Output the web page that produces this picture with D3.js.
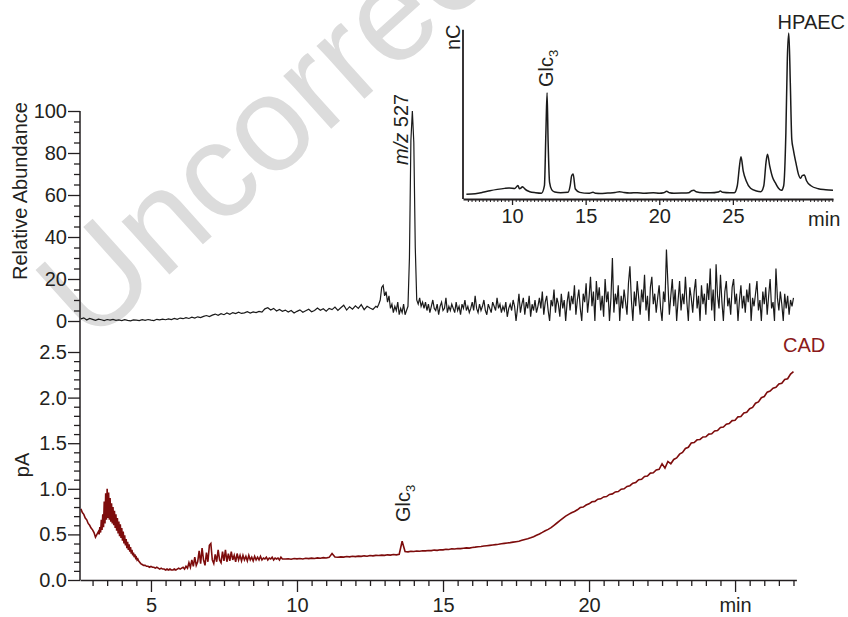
<!DOCTYPE html>
<html><head><meta charset="utf-8">
<script src="https://cdn.jsdelivr.net/npm/d3@7"></script>
<style>
body{margin:0;background:#fff}
svg{display:block}
text{font-family:"Liberation Sans",Arial,Helvetica,sans-serif;fill:#231f20}
</style>
</head><body>
<svg id="chart" width="848" height="617"></svg>
<script>
// ---------------- DATA ----------------
const timeTicks = [5, 10, 15, 20, 25];
const timeTickLabels = ["5", "10", "15", "20", "min"];
const msTicks = [0, 20, 40, 60, 80, 100];
const cadTicks = [0, 0.5, 1.0, 1.5, 2.0, 2.5];
const insetTicks = [10, 15, 20, 25];

// MS trace (m/z 527, relative abundance %), sampled segments
const msQuietStart = 2.6, msQuietStep = 0.1;
const msQuietValues = [
 1.0,1.5,0.5,1.2,0.8,0.3,0.9,0.6,0.2,0.7,
 0.4,0.8,0.3,0.5,0.2,0.6,0.3,0.1,0.5,0.4,
 0.2,0.6,0.3,0.7,0.4,0.2,0.8,0.5,0.9,0.6,
 1.0,0.7,1.2,0.8,1.4,1.1,1.6,1.2,1.8,1.4,
 2.0,1.6,2.2,2.6,2.1,2.8,3.3,2.7,3.5,3.0,
 3.8,3.2,4.0,3.5,4.2,3.6,3.9,4.4,3.8,4.3,
 4.0,4.6,4.2,5.8,6.3,5.2,6.0,4.8,5.5,4.6,
 5.2,4.3,5.0,3.8,4.6,5.3,4.2,4.9,5.6,4.4,
 5.0,6.2,5.1,5.8,4.7,6.0,5.4,6.6,5.0,6.3,
 7.5,5.2,6.8,5.6,7.2,6.0,7.8,5.4,7.0,6.2,
 5.5,7.0];
const msPeakStart = 12.75, msPeakStep = 0.05;
const msPeakValues = [
 6.5,8,10,16,17,12,14,9,12,6,
 8,4,7,5,9,3,6,4,8,3,
 5,7,30,86,100,85,35,10,8,11,
 7,9];
const msNoisyStart = 14.35, msNoisyStep = 0.05;
const msNoisyValues = [
 6,9,5,8,4,7,10,6,5,8,3,7,9,5,6,11,4,7,5,8,
 6,4,9,5,7,3,8,6,10,5,7,4,6,9,5,12,6,4,8,5,
 7,10,5,3,8,6,4,9,7,5,11,6,8,4,7,5,9,2,6,8,
 5,10,7,0,6,13,4,8,11,3,9,6,12,2,8,5,10,4,7,11,
 6,14,3,9,12,5,0,10,7,15,4,11,8,2,13,6,10,0,9,14,
 5,12,8,17,3,10,15,6,0,13,9,18,4,11,21,7,14,0,19,10,
 16,5,12,2,20,9,14,0,11,30,4,13,8,17,0,12,6,15,9,3,
 18,26,10,0,14,7,19,11,3,15,9,22,5,12,0,16,21,8,13,4,
 11,17,6,0,14,9,34,18,3,12,20,7,15,0,10,19,5,13,8,21,
 9,0,16,11,4,14,20,6,12,0,17,8,13,3,18,10,25,5,15,0,
 27,12,6,22,9,0,14,19,7,11,3,16,20,8,13,0,10,17,6,12,
 4,15,9,18,0,11,7,13,19,5,10,0,14,8,16,3,12,20,6,9,
 0,25,11,5,14,8,0,13,6,12,3,10,7,11];

// CAD trace (pA)
const cadStartStart = 2.6, cadStartStep = 0.05;
const cadStartValues = [0.78,0.74,0.72,0.68,0.66,0.62,0.60,0.57,0.55,0.52,0.47,0.50,0.53];
const cadBandStart = 3.225, cadBandStep = 0.025;
const cadBandValues = [
 0.50,0.58,0.52,0.66,0.55,0.72,0.58,0.86,0.62,0.95,0.66,1.00,
 0.68,0.96,0.66,0.90,0.64,0.84,0.62,0.80,0.60,0.76,0.57,0.72,
 0.54,0.68,0.51,0.64,0.48,0.61,0.46,0.57,0.43,0.53,0.40,0.49,
 0.38,0.45,0.35,0.42,0.33,0.39,0.31,0.36,0.29,0.33,0.27,0.30,
 0.25,0.28,0.24,0.25,0.22,0.23,0.21,0.20];
const cadEarlyStart = 4.65, cadEarlyStep = 0.05;
const cadEarlyValues = [
 0.18,0.17,0.16,0.16,0.15,0.15,0.14,0.15,0.14,
 0.14,0.13,0.14,0.13,0.12,0.13,0.12,0.12,0.11,0.12,
 0.11,0.12,0.11,0.11,0.12,0.11,0.12,0.13,0.12,0.13,
 0.14,0.12,0.15,0.13,0.19,0.14,0.22,0.15,0.25,0.16,
 0.20,0.32,0.18,0.35,0.22,0.16,0.30,0.20,0.38,0.40,
 0.22,0.18,0.28,0.20,0.33,0.22,0.19,0.31,0.21,0.33,
 0.20,0.29,0.21,0.31,0.22,0.27,0.20,0.29,0.22,0.27,
 0.21,0.27,0.22,0.26,0.21,0.27,0.22,0.25,0.21,0.26,
 0.22,0.25,0.22,0.26,0.22,0.24,0.23,0.25,0.22,0.24,
 0.23,0.25,0.22,0.24,0.23,0.24,0.22,0.25,0.23];
const cadLateStart = 9.6, cadLateStep = 0.1;
const cadLateValues = [
 0.230,0.233,0.228,0.235,0.232,0.236,0.231,0.238,0.234,0.240,
 0.236,0.242,0.239,0.245,0.241,0.248,0.290,0.252,0.249,0.254,
 0.251,0.257,0.254,0.260,0.256,0.262,0.259,0.265,0.261,0.268,
 0.265,0.270,0.268,0.273,0.270,0.276,0.273,0.279,0.276,0.282,
 0.425,0.312,0.309,0.315,0.313,0.318,0.316,0.321,0.319,0.324,
 0.322,0.328,0.325,0.332,0.330,0.337,0.335,0.342,0.340,0.346,
 0.344,0.349,0.352,0.350,0.357,0.360,0.364,0.367,0.372,0.376,
 0.380,0.384,0.388,0.392,0.397,0.402,0.406,0.410,0.415,0.420,
 0.425,0.435,0.445,0.452,0.462,0.475,0.490,0.505,0.522,0.540,
 0.555,0.575,0.600,0.625,0.650,0.675,0.700,0.720,0.738,0.752,
 0.770,0.795,0.800,0.822,0.835,0.858,0.862,0.886,0.890,0.911,
 0.915,0.938,0.944,0.966,0.970,0.996,1.000,1.026,1.034,1.062,
 1.070,1.099,1.104,1.135,1.140,1.172,1.175,1.207,1.214,1.275,
 1.226,1.300,1.274,1.322,1.338,1.380,1.398,1.442,1.455,1.502,
 1.508,1.537,1.541,1.568,1.570,1.600,1.603,1.634,1.638,1.673,
 1.678,1.708,1.715,1.748,1.752,1.789,1.792,1.831,1.838,1.878,
 1.893,1.938,1.952,1.999,2.012,2.060,2.072,2.104,2.112,2.150,
 2.157,2.198,2.207,2.258,2.285];

// Inset HPAEC trace: [time (min), signal (relative nC)]
const hpaecPoints = [
 [6.9,2.8],[7.5,3.2],[8.0,4.0],[8.5,5.0],[9.0,5.8],[9.5,6.4],[9.8,6.6],[10.2,6.4],
 [10.4,8.2],[10.5,6.2],[10.6,6.5],[10.7,7.4],[10.8,6.8],[10.9,5.8],[11.2,4.4],[11.6,3.8],
 [12.0,3.5],[12.2,8],[12.3,40],[12.38,64],[12.45,35],[12.55,10],[12.7,5.5],[12.9,4.2],
 [13.3,3.8],[13.8,4],[13.95,8],[14.05,14],[14.15,15],[14.3,6],[14.6,4],[15.2,3.4],
 [15.5,4.0],[15.7,3.4],[16.0,3.3],[16.5,3.6],[17.0,3.9],[17.3,4.4],[17.6,3.9],[18.0,3.6],
 [18.5,3.8],[19.0,3.5],[19.6,3.7],[20.0,3.5],[20.3,3.8],[20.5,4.6],[20.7,3.8],[21.0,3.5],
 [21.5,3.6],[22.0,3.8],[22.2,5.0],[22.35,5.3],[22.5,4.4],[23.0,3.8],[23.5,3.7],[24.0,4.2],
 [24.15,4.8],[24.3,4.0],[24.8,3.7],[25.1,3.8],[25.3,8],[25.45,20],[25.55,25.5],[25.7,17],
 [25.9,11],[26.2,6.5],[26.6,4.8],[26.9,4.4],[27.1,8],[27.25,22],[27.35,27],[27.5,20],
 [27.7,13],[27.9,9.5],[28.1,6.5],[28.3,5.2],[28.45,8],[28.6,40],[28.7,85],[28.8,100],
 [28.9,70],[29.0,36],[29.1,30],[29.3,21],[29.45,15],[29.6,12.5],[29.7,14],[29.85,14.5],
 [30.0,11],[30.3,8],[30.8,6.2],[31.3,5.6],[31.8,5.2]];

// ---------------- BUILD ----------------
function seg(start, step, values) {
  return values.map((v, i) => [start + i * step, v]);
}
const msData = seg(msQuietStart, msQuietStep, msQuietValues)
  .concat(seg(msPeakStart, msPeakStep, msPeakValues))
  .concat(seg(msNoisyStart, msNoisyStep, msNoisyValues));
const cadData = seg(cadStartStart, cadStartStep, cadStartValues)
  .concat(seg(cadBandStart, cadBandStep, cadBandValues))
  .concat(seg(cadEarlyStart, cadEarlyStep, cadEarlyValues))
  .concat(seg(cadLateStart, cadLateStep, cadLateValues));

const svg = d3.select("#chart");
const FS = 20;
const CADCOL = "#7d0c0c";

const x = d3.scaleLinear().domain([2.57, 27.1]).range([80, 796.4]);
const yMS = d3.scaleLinear().domain([0, 100]).range([321, 111]);
const yCAD = d3.scaleLinear().domain([0, 2.5]).range([580, 352]);
const xIn = d3.scaleLinear().domain([6.67, 31.8]).range([463, 833]);
const yIn = d3.scaleLinear().domain([0, 100]).range([199, 33]);

// watermark
svg.append("text")
  .attr("transform", "translate(90,346) rotate(-42)")
  .attr("font-size", 135)
  .style("fill", "#dcdcdc")
  .text("Uncorrected");

// traces
svg.append("path").datum(msData)
  .attr("d", d3.line().x(d => x(d[0])).y(d => yMS(d[1])))
  .attr("fill", "none").attr("stroke", "#1a1a1a").attr("stroke-width", 1.2);
svg.append("path").datum(cadData)
  .attr("d", d3.line().x(d => x(d[0])).y(d => yCAD(d[1])))
  .attr("fill", "none").attr("stroke", CADCOL).attr("stroke-width", 1.6);
svg.append("path").datum(hpaecPoints)
  .attr("d", d3.line().curve(d3.curveMonotoneX).x(d => xIn(d[0])).y(d => yIn(d[1])))
  .attr("fill", "none").attr("stroke", "#1a1a1a").attr("stroke-width", 1.5);

function styleAxis(g) {
  g.selectAll("line").attr("stroke", "#231f20").attr("stroke-width", 1.3);
  g.selectAll("path").attr("stroke", "#231f20").attr("stroke-width", 1.5);
  g.selectAll("text").attr("font-size", FS).style("font-family", '"Liberation Sans",Arial,sans-serif').attr("fill", "#231f20");
}

// main left spine
svg.append("line")
  .attr("x1", x.range()[0]).attr("x2", x.range()[0])
  .attr("y1", yMS(100)).attr("y2", yCAD(0))
  .attr("stroke", "#231f20").attr("stroke-width", 1.5);

// MS y axis
const gMS = svg.append("g").attr("transform", `translate(${x.range()[0]},0)`)
  .call(d3.axisLeft(yMS).tickValues(msTicks).tickSize(12).tickSizeOuter(0).tickPadding(1));
gMS.select(".domain").remove();
styleAxis(gMS);
const gMSm = svg.append("g").attr("transform", `translate(${x.range()[0]},0)`)
  .call(d3.axisLeft(yMS).tickValues(d3.range(5, 100, 5).filter(v => v % 20 !== 0)).tickSize(6).tickFormat(""));
gMSm.select(".domain").remove();
styleAxis(gMSm);

// CAD y axis
const gCAD = svg.append("g").attr("transform", `translate(${x.range()[0]},0)`)
  .call(d3.axisLeft(yCAD).tickValues(cadTicks).tickSize(12).tickSizeOuter(0).tickPadding(1).tickFormat(d3.format(".1f")));
gCAD.select(".domain").remove();
styleAxis(gCAD);
const gCADm = svg.append("g").attr("transform", `translate(${x.range()[0]},0)`)
  .call(d3.axisLeft(yCAD).tickValues(d3.range(1, 25).filter(v => v % 5 !== 0).map(v => v / 10)).tickSize(6).tickFormat(""));
gCADm.select(".domain").remove();
styleAxis(gCADm);

// main x axis
const gX = svg.append("g").attr("transform", `translate(0,${yCAD(0)})`)
  .call(d3.axisBottom(x).tickValues(timeTicks).tickSize(12).tickSizeOuter(0).tickPadding(6)
    .tickFormat((d, i) => timeTickLabels[i]));
styleAxis(gX);
const gXm = svg.append("g").attr("transform", `translate(0,${yCAD(0)})`)
  .call(d3.axisBottom(x).tickValues(d3.range(3, 27.01, 0.5).filter(v => v % 5 !== 0)).tickSize(6).tickFormat(""));
gXm.select(".domain").remove();
styleAxis(gXm);

// inset axes
svg.append("line")
  .attr("x1", xIn.range()[0]).attr("x2", xIn.range()[0])
  .attr("y1", yIn(102)).attr("y2", yIn(0))
  .attr("stroke", "#231f20").attr("stroke-width", 1.8);
const gIn = svg.append("g").attr("transform", `translate(0,${yIn(0)})`)
  .call(d3.axisBottom(xIn).tickValues(insetTicks).tickSize(6).tickSizeOuter(0).tickPadding(4));
styleAxis(gIn);
gIn.select(".domain").attr("stroke-width", 1.8);
const gInm = svg.append("g").attr("transform", `translate(0,${yIn(0)})`)
  .call(d3.axisBottom(xIn).tickValues(d3.range(7, 31.8, 0.25).filter(v => v % 5 !== 0)).tickSize(3).tickFormat(""));
gInm.select(".domain").remove();
styleAxis(gInm);
gInm.selectAll("line").attr("stroke-width", 1);

// texts
svg.append("text").attr("transform", "translate(27,191) rotate(-90)")
  .attr("text-anchor", "middle").attr("font-size", FS).text("Relative Abundance");
svg.append("text").attr("transform", "translate(29,465) rotate(-90)")
  .attr("text-anchor", "middle").attr("font-size", FS).text("pA");

const mz = svg.append("text").attr("transform", `translate(${x(13.95) - 4},165) rotate(-90)`)
  .attr("font-size", FS);
mz.append("tspan").attr("font-style", "italic").text("m/z");
mz.append("tspan").text(" 527");

function glc(tx, ty) {
  const g = svg.append("text").attr("transform", `translate(${tx},${ty}) rotate(-90)`).attr("font-size", FS);
  g.append("tspan").text("Glc");
  g.append("tspan").attr("font-size", 13).attr("dy", 5).text("3");
}
glc(x(13.6) + 8, 522);
glc(xIn(12.38) + 6, 87);

svg.append("text").attr("x", 845).attr("y", 29).attr("text-anchor", "end")
  .attr("font-size", FS).text("HPAEC");
svg.append("text").attr("transform", `translate(${xIn.range()[0] - 3},50) rotate(-90)`)
  .attr("font-size", FS).text("nC");
svg.append("text").attr("x", xIn(31.2)).attr("y", yIn(0) + 27).attr("text-anchor", "middle")
  .attr("font-size", FS).text("min");
svg.append("text").attr("x", 783).attr("y", 352).attr("font-size", FS)
  .style("fill", "#8b1a1a").text("CAD");
</script>
</body></html>
